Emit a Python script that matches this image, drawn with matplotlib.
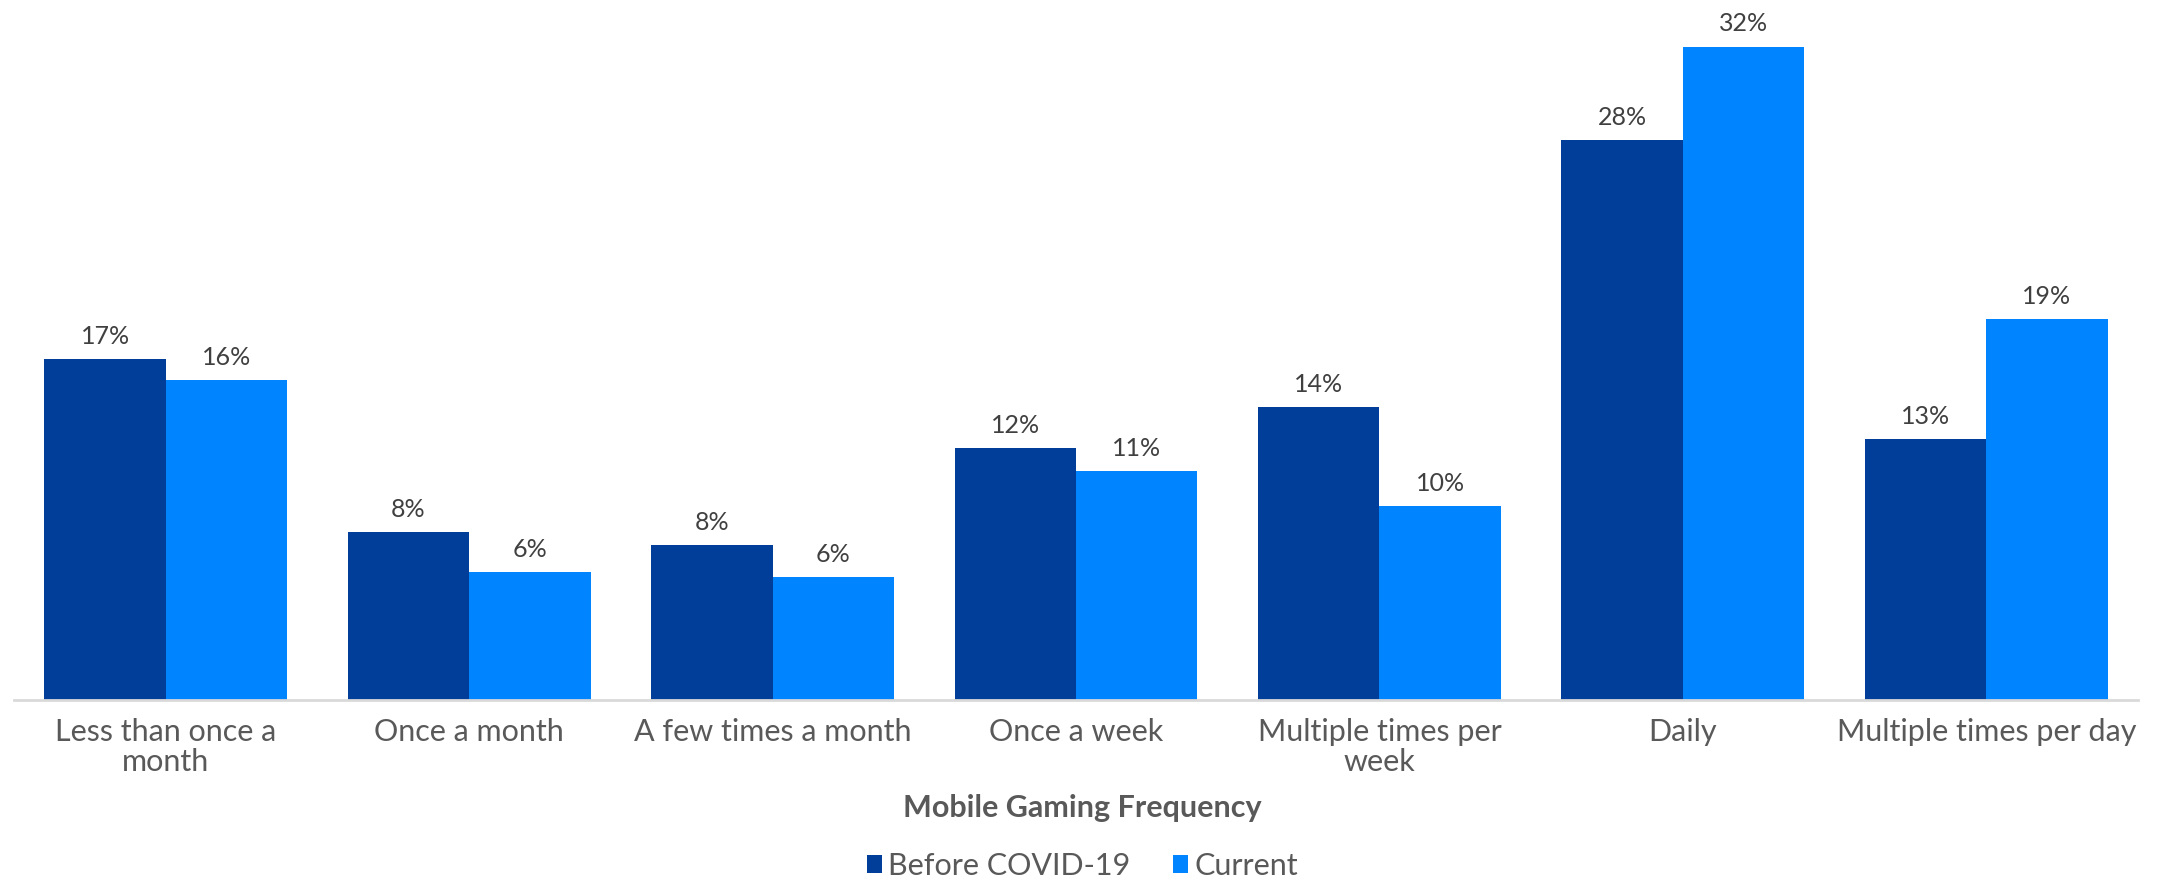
import matplotlib
matplotlib.use("Agg")
import matplotlib.pyplot as plt
import numpy as np

# Survey data: share of respondents by mobile gaming frequency
categories = ["Less than once a\nmonth", "Once a month", "A few times a month",
              "Once a week", "Multiple times per\nweek", "Daily",
              "Multiple times per day"]
before_covid = [16.8, 8.28, 7.62, 12.4, 14.45, 27.6, 12.85]
current = [15.75, 6.29, 6.05, 11.29, 9.57, 32.19, 18.77]

DARK = "#003E99"
LIGHT = "#0084FF"

plt.rcParams["font.family"] = ["Lato", "DejaVu Sans"]

fig = plt.figure(figsize=(21.65, 8.8), dpi=100)
ax = fig.add_axes([14 / 2165, 180 / 880, 2124 / 2165, 680 / 880])

x = np.arange(len(categories))
w = 0.4
b1 = ax.bar(x - w / 2, before_covid, w, color=DARK, label="Before COVID-19")
b2 = ax.bar(x + w / 2, current, w, color=LIGHT, label="Current")

for bars, vals in ((b1, before_covid), (b2, current)):
    ax.bar_label(bars, labels=[f"{v:.0f}%" for v in vals], padding=8,
                 fontsize=18, color="#404040")

ax.set_xlim(-0.5, len(categories) - 0.5)
ax.set_ylim(0, 680 / 20.3)
ax.set_yticks([])
for s in ("top", "right", "left"):
    ax.spines[s].set_visible(False)
ax.spines["bottom"].set_color("#D9D9D9")
ax.spines["bottom"].set_linewidth(2)

ax.set_xticks(x)
ax.set_xticklabels(categories, fontsize=22, color="#595959", linespacing=1.07)
ax.tick_params(axis="x", length=0, pad=13)

fig.text(0.5, 1 - 808 / 880, "Mobile Gaming Frequency", ha="center", va="center",
         fontsize=22, fontweight="bold", color="#595959")

leg = fig.legend(handles=[b1, b2], loc="center", bbox_to_anchor=(0.5, 1 - 866 / 880),
                 ncol=2, frameon=False, fontsize=22, handlelength=0.5,
                 handleheight=0.5, handletextpad=0.2, columnspacing=1.4)
for t in leg.get_texts():
    t.set_color("#595959")

fig.savefig("out.png", dpi=100, facecolor="white")
